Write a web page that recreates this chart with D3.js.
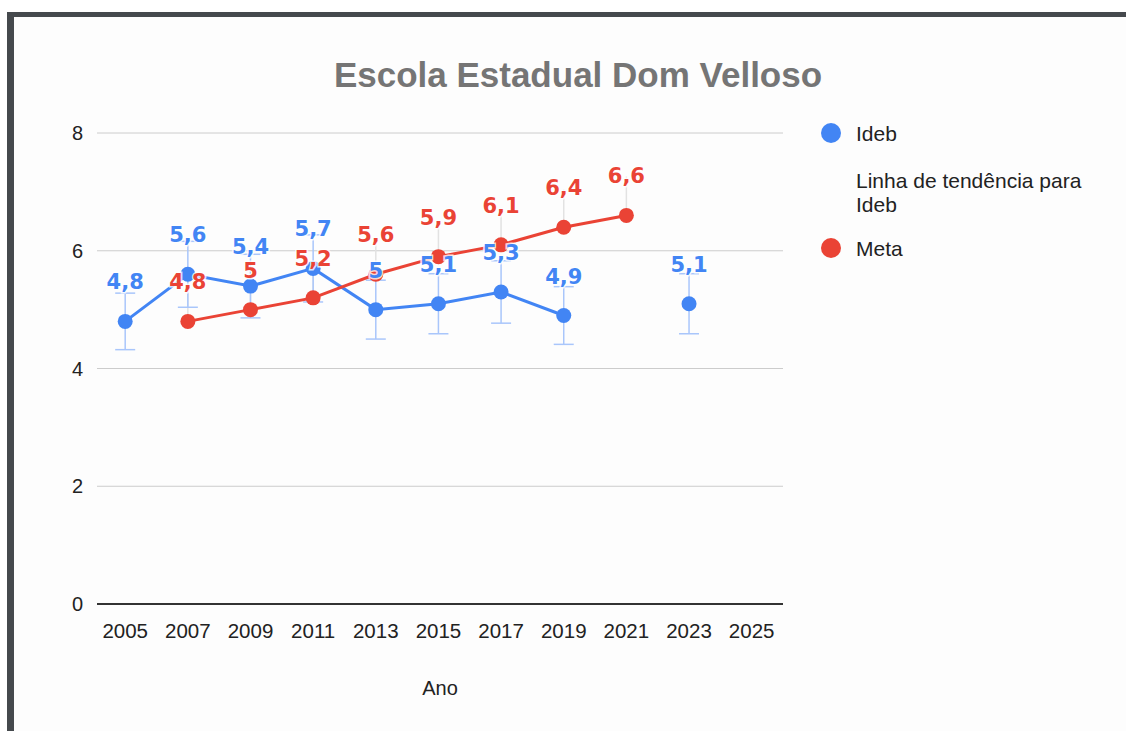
<!DOCTYPE html>
<html>
<head>
<meta charset="utf-8">
<script src="https://cdn.jsdelivr.net/npm/d3@7"></script>
<style>
  body { margin: 0; background: #fff; }
  svg { display: block; }
</style>
</head>
<body>
<svg id="chart" width="1126" height="731"></svg>
<script>
// data
const xTicks = [2005, 2007, 2009, 2011, 2013, 2015, 2017, 2019, 2021, 2023, 2025];
const yTicks = [0, 2, 4, 6, 8];
const idebYears = [2005, 2007, 2009, 2011, 2013, 2015, 2017, 2019, 2023];
const idebValues = [4.8, 5.6, 5.4, 5.7, 5.0, 5.1, 5.3, 4.9, 5.1];
const metaYears = [2007, 2009, 2011, 2013, 2015, 2017, 2019, 2021];
const metaValues = [4.8, 5.0, 5.2, 5.6, 5.9, 6.1, 6.4, 6.6];
const errorPct = 0.1;

const blue = '#4285f4', red = '#ea4335', errBlue = '#a9c6fb';
const fmt = v => String(v).replace('.', ',');

const svg = d3.select('#chart');

// page frame
svg.append('rect').attr('x', 7).attr('y', 12).attr('width', 1130).attr('height', 730)
  .attr('fill', '#fdfdfd').attr('stroke', 'none');
svg.append('rect').attr('x', 7).attr('y', 12).attr('width', 7).attr('height', 731).attr('fill', '#45494d');
svg.append('rect').attr('x', 7).attr('y', 12).attr('width', 1126).attr('height', 5).attr('fill', '#45494d');

const x = d3.scaleLinear().domain([2004.1, 2026]).range([97, 783]);
const y = d3.scaleLinear().domain([0, 8]).range([604, 133]);

const sans = 'Liberation Sans, Arial, sans-serif';

// title
svg.append('text')
  .attr('x', 578).attr('y', 87)
  .attr('text-anchor', 'middle')
  .attr('font-family', sans)
  .attr('font-weight', 'bold')
  .attr('font-size', 35)
  .attr('fill', '#757575')
  .text('Escola Estadual Dom Velloso');

// gridlines
svg.append('g').selectAll('line')
  .data(yTicks.filter(d => d > 0))
  .enter().append('line')
  .attr('x1', 97).attr('x2', 783)
  .attr('y1', d => y(d)).attr('y2', d => y(d))
  .attr('stroke', '#cccccc').attr('stroke-width', 1);

// y axis labels
svg.append('g').selectAll('text')
  .data(yTicks)
  .enter().append('text')
  .attr('x', 83).attr('y', d => y(d) + 7)
  .attr('text-anchor', 'end')
  .attr('font-family', sans)
  .attr('font-size', 20)
  .attr('fill', '#222')
  .text(d => d);

// x axis labels
svg.append('g').selectAll('text')
  .data(xTicks)
  .enter().append('text')
  .attr('x', d => x(d)).attr('y', 638)
  .attr('text-anchor', 'middle')
  .attr('font-family', sans)
  .attr('font-size', 20.5)
  .attr('fill', '#222')
  .text(d => d);

svg.append('text')
  .attr('x', 440).attr('y', 695)
  .attr('text-anchor', 'middle')
  .attr('font-family', sans)
  .attr('font-size', 20)
  .attr('fill', '#222')
  .text('Ano');

const ideb = idebYears.map((yr, i) => ({year: yr, value: idebValues[i]}));
const meta = metaYears.map((yr, i) => ({year: yr, value: metaValues[i]}));

// meta leader (upper interval) lines
svg.append('g').selectAll('line')
  .data(meta)
  .enter().append('line')
  .attr('x1', d => x(d.year)).attr('x2', d => x(d.year))
  .attr('y1', d => y(d.value)).attr('y2', d => y(d.value * (1 + errorPct)))
  .attr('stroke', '#e2e2e2').attr('stroke-width', 1.5);

// ideb error bars
const err = svg.append('g').attr('stroke', errBlue).attr('stroke-width', 1.5);
ideb.forEach(d => {
  const cx = x(d.year);
  const lo = y(d.value * (1 - errorPct)), hi = y(d.value * (1 + errorPct));
  err.append('line').attr('x1', cx).attr('x2', cx).attr('y1', lo).attr('y2', hi);
  err.append('line').attr('x1', cx - 10).attr('x2', cx + 10).attr('y1', lo).attr('y2', lo);
  err.append('line').attr('x1', cx - 10).attr('x2', cx + 10).attr('y1', hi).attr('y2', hi);
});

// ideb line: break the line where a year is missing (2021)
const line = d3.line()
  .defined(d => d.value != null)
  .x(d => x(d.year))
  .y(d => y(d.value));

const idebFull = xTicks.slice(0, 10).map(yr => {
  const i = idebYears.indexOf(yr);
  return {year: yr, value: i === -1 ? null : idebValues[i]};
});

svg.append('path').datum(idebFull)
  .attr('d', line)
  .attr('fill', 'none').attr('stroke', blue).attr('stroke-width', 3);

svg.append('path').datum(meta)
  .attr('d', line)
  .attr('fill', 'none').attr('stroke', red).attr('stroke-width', 3);

svg.append('g').selectAll('circle')
  .data(ideb)
  .enter().append('circle')
  .attr('cx', d => x(d.year)).attr('cy', d => y(d.value))
  .attr('r', 7.5).attr('fill', blue);

svg.append('g').selectAll('circle')
  .data(meta)
  .enter().append('circle')
  .attr('cx', d => x(d.year)).attr('cy', d => y(d.value))
  .attr('r', 7.5).attr('fill', red);

// data labels
function labels(data, color) {
  svg.append('g').selectAll('text')
    .data(data)
    .enter().append('text')
    .attr('x', d => x(d.year)).attr('y', d => y(d.value) - 32)
    .attr('text-anchor', 'middle')
    .attr('font-family', 'DejaVu Sans, Verdana, sans-serif')
    .attr('font-weight', 'bold')
    .attr('font-size', 21)
    .attr('fill', color)
    .attr('stroke', '#fff').attr('stroke-width', 3)
    .attr('stroke-opacity', 0.8)
    .attr('paint-order', 'stroke')
    .text(d => fmt(d.value));
}
labels(ideb, blue);
labels(meta, red);

// legend
const legend = svg.append('g')
  .attr('font-family', sans)
  .attr('font-size', 21)
  .attr('fill', '#222');
legend.append('circle').attr('cx', 831).attr('cy', 133).attr('r', 10).attr('fill', blue);
legend.append('text').attr('x', 856).attr('y', 141).text('Ideb');
legend.append('text').attr('x', 856).attr('y', 188).text('Linha de tendência para');
legend.append('text').attr('x', 856).attr('y', 212).text('Ideb');
legend.append('circle').attr('cx', 831).attr('cy', 248).attr('r', 10).attr('fill', red);
legend.append('text').attr('x', 856).attr('y', 256).text('Meta');

// zero baseline
svg.append('line')
  .attr('x1', 97).attr('x2', 783)
  .attr('y1', y(0)).attr('y2', y(0))
  .attr('stroke', '#333').attr('stroke-width', 2);
</script>
</body>
</html>
